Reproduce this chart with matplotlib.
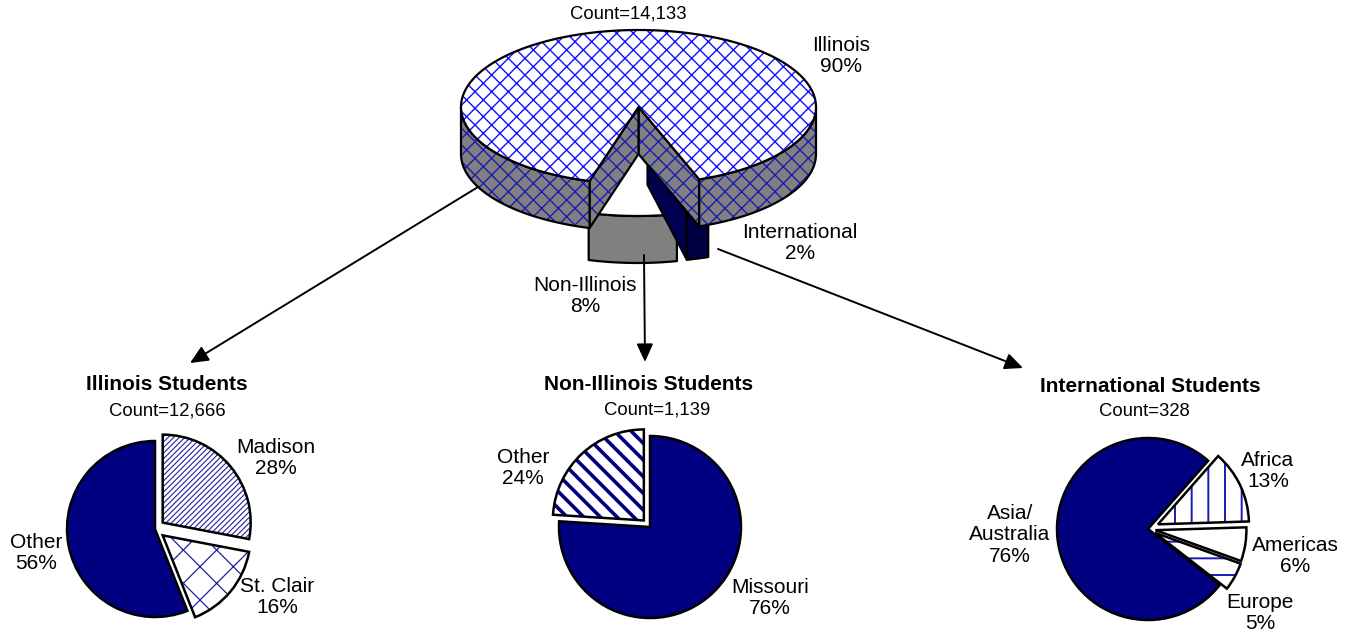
import numpy as np
import matplotlib.pyplot as plt
from matplotlib.patches import Polygon

plt.rcParams['font.family'] = ['Liberation Sans', 'DejaVu Sans']
plt.rcParams['hatch.linewidth'] = 1.0

# ---- data ----
total_count = "14,133"
top_names = ["Non-Illinois", "International", "Illinois"]
top_pcts = [8, 2, 90]

il_count = "12,666"
il_names = ["Madison", "St. Clair", "Other"]
il_pcts = [28, 16, 56]

nil_count = "1,139"
nil_names = ["Missouri", "Other"]
nil_pcts = [76, 24]

intl_count = "328"
intl_names = ["Africa", "Americas", "Europe", "Asia/\nAustralia"]
intl_pcts = [13, 6, 5, 76]

NAVY = "#000080"
GRAY = "#808080"
W, H = 1351, 638


def Y(py):
    # pixel row -> data y (y axis points up)
    return H - py


fig = plt.figure(figsize=(W / 100, H / 100), dpi=100)
ax = fig.add_axes([0, 0, 1, 1])


def shape(pts, face, hatch=None, hcolor=None, lw=1.6):
    if hatch:
        ax.add_patch(Polygon(pts, closed=True, facecolor=face, edgecolor=hcolor,
                             hatch=hatch, linewidth=0))
        face = "none"
    ax.add_patch(Polygon(pts, closed=True, facecolor=face, edgecolor="black",
                         linewidth=lw, joinstyle="round"))


# ---- 3D pie (all students) ----
cx, cy, A, B, DEPTH = 638.5, Y(107), 177.5, 77, 47
start = -106
explode_px = [32, 32, 0]
top_faces = ["white", NAVY, "white"]
side_faces = [GRAY, "#000040", GRAY]
cut_faces = [GRAY, "#000050", GRAY]
top_hatch = [None, None, "xx"]
side_hatch = [None, None, "xx"]


def rim(x0, y0, t):
    t = np.radians(t)
    return np.column_stack([x0 + A * np.cos(t), y0 + B * np.sin(t)])


def lower_runs(t1, t2):
    runs = []
    for k in range(-2, 3):
        s, e = max(t1, 180 + 360 * k), min(t2, 360 + 360 * k)
        if e > s:
            runs.append((s, e))
    return runs


t0 = start
for i, p in enumerate(top_pcts):
    t1, t2 = t0, t0 + p * 3.6
    t0 = t2
    tm = np.radians((t1 + t2) / 2)
    x0 = cx + explode_px[i] * np.cos(tm)
    y0 = cy + explode_px[i] * np.sin(tm)
    down = np.array([0, DEPTH])
    # cut faces
    for t, vis in ((t1, np.cos(np.radians(t1)) > 0), (t2, np.cos(np.radians(t2)) < 0)):
        if vis:
            r = rim(x0, y0, [t])[0]
            quad = np.array([[x0, y0], r, r - down, [x0, y0 - DEPTH]])
            shape(quad, cut_faces[i], side_hatch[i], "#1c1cb4")
    # outer side wall
    for s, e in lower_runs(t1, t2):
        arc = rim(x0, y0, np.linspace(s, e, 80))
        shape(np.vstack([arc, (arc - down)[::-1]]), side_faces[i], side_hatch[i], "#1c1cb4")
    # top face
    arc = rim(x0, y0, np.linspace(t1, t2, 200))
    shape(np.vstack([[x0, y0], arc]), top_faces[i], top_hatch[i], "#1010ff")

# ---- flat pies ----


def draw_pie(pcts, center, radius, startangle, explode, faces, hatches, hcolors, hlws):
    kw = dict(center=center, radius=radius, startangle=startangle,
              counterclock=False, explode=explode)
    ax.pie(pcts, colors=faces, wedgeprops=dict(linewidth=0), **kw)
    hw, _ = ax.pie(pcts, colors=["none"] * len(pcts), wedgeprops=dict(linewidth=0), **kw)
    for w, h, hc, hl in zip(hw, hatches, hcolors, hlws):
        w.set_facecolor("none")
        if h:
            w.set_edgecolor(hc)
            w.set_hatch(h)
            if hasattr(w, "set_hatch_linewidth"):
                w.set_hatch_linewidth(hl)
        else:
            w.set_edgecolor("none")
    ax.pie(pcts, colors=["none"] * len(pcts),
           wedgeprops=dict(linewidth=1.8, edgecolor="black", fill=False), **kw)


# explode values are offsets in pixels (pie adds them to the centre directly)
draw_pie(il_pcts, (155, Y(529)), 88, 90, [10, 10, 0],
         ["white", "white", NAVY], ["//////", "x", None],
         ["#22229a", "#22229a", None], [0.8, 0.9, 1])
draw_pie(nil_pcts, (650, Y(527)), 91, 90, [0, 9],
         [NAVY, "white"], [None, "\\\\"], [None, NAVY], [1, 2.6])
draw_pie(intl_pcts, (1148, Y(529)), 91, 48.6, [11, 7.5, 8, 0],
         ["white", "white", "white", NAVY], ["|", None, "-", None],
         ["#1a1ab0", None, "#1a1ab0", None], [1.4, 1, 1.4, 1])

# ---- arrows ----
arrows = [((478, 187), (190, 363)), ((644, 255), (645, 362)), ((718, 249), (1023, 368))]
for (x1, y1), (x2, y2) in arrows:
    ax.annotate("", xy=(x2, Y(y2)), xytext=(x1, Y(y1)),
                arrowprops=dict(arrowstyle="-|>,head_length=1.1,head_width=0.5",
                                mutation_scale=10, color="black", lw=1.4,
                                shrinkA=0, shrinkB=0))

# ---- text ----
LBL = 15
CNT = 13.3


def label(x, y, s, size=LBL, **kw):
    ax.text(x, Y(y), s, ha="center", va="center", fontsize=size,
            linespacing=1.15, **kw)


label(628, 14, f"Count={total_count}", CNT)
top_pos = [(585, 296), (800, 243), (841, 56)]
for (x, y), n, p in zip(top_pos, top_names, top_pcts):
    label(x, y, f"{n}\n{p}%")

label(167, 385, "Illinois Students", LBL, fontweight="bold")
label(167, 411, f"Count={il_count}", CNT)
for (x, y), n, p in zip([(276, 458), (277, 597), (36, 553)], il_names, il_pcts):
    label(x, y, f"{n}\n{p}%")

label(649, 385, "Non-Illinois Students", LBL, fontweight="bold")
label(657, 410, f"Count={nil_count}", CNT)
for (x, y), n, p in zip([(770, 598), (523, 468)], nil_names, nil_pcts):
    label(x, y, f"{n}\n{p}%")

label(1150, 387, "International Students", LBL, fontweight="bold")
label(1144, 412, f"Count={intl_count}", CNT)
for (x, y), n, p in zip([(1268, 471), (1295, 556), (1260, 613), (1010, 535)],
                        intl_names, intl_pcts):
    label(x, y, f"{n}\n{p}%")

ax.set_xlim(0, W)
ax.set_ylim(0, H)
ax.set_aspect("equal")
ax.axis("off")
fig.savefig("out.png", dpi=100, facecolor="white")
